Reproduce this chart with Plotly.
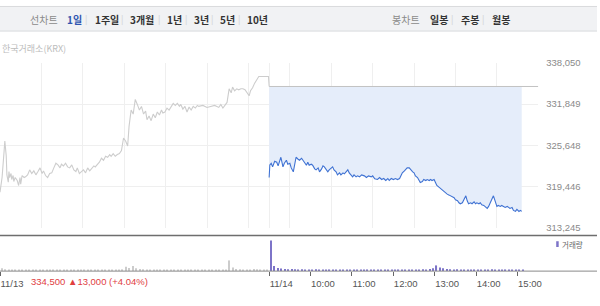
import plotly.graph_objects as go

# ---------------- data ----------------
prev_close = 334500
day_labels = ["11/13", "11/14"]
hour_labels = ["10:00", "11:00", "12:00", "13:00", "14:00", "15:00"]
y_ticks = [313245, 319446, 325648, 331849, 338050]

prev_times = ["09:00","09:03","09:06","09:07","09:09","09:10","09:12","09:13","09:14","09:16","09:17","09:19","09:20","09:22","09:25","09:27","09:29","09:30","09:32","09:35","09:37","09:40","09:43","09:46","09:49","09:52","09:55","09:58",
              "10:01","10:03","10:06","10:09","10:12","10:15","10:18","10:21","10:24","10:27","10:29","10:32","10:35","10:38","10:41","10:44","10:47","10:50","10:52","10:55","10:58",
              "11:01","11:04","11:07","11:10","11:13","11:16","11:18","11:21","11:24","11:27","11:30","11:33","11:36","11:39","11:41","11:44","11:47","11:50","11:53","11:56","11:59",
              "12:02","12:05","12:07","12:10","12:13","12:16","12:19","12:22","12:25","12:28","12:31","12:33","12:36","12:39","12:42","12:45","12:48","12:51","12:54","12:56","12:59",
              "13:02","13:05","13:08","13:11","13:14","13:17","13:20","13:22","13:25","13:28","13:31","13:34","13:37","13:40","13:43","13:46","13:48","13:54",
              "14:00","14:06","14:11","14:17","14:20","14:23","14:26","14:29","14:32","14:35","14:37","14:40","14:43","14:46","14:49","14:52","14:55","14:58",
              "15:01","15:03","15:06","15:09","15:12","15:15","15:29","15:30"]
prev_prices = [318600,320800,324850,326300,324100,321200,320100,321700,320800,321400,320500,321100,320200,320800,320350,319600,320800,319800,321100,320800,320900,321200,321950,321400,321800,321200,321700,322250,
               321400,321800,321100,320800,321400,321500,322250,322950,322700,322250,322800,322550,322950,322400,322250,322700,321950,321700,322250,321400,321700,
               321950,321500,322250,321800,322250,322550,322400,322800,323100,323700,323400,324000,323850,324250,324000,324400,324000,324250,324400,324850,326750,
               326300,325550,328500,330950,330350,332550,331800,330950,331500,330350,330800,329500,330050,329350,330350,329800,330650,330200,330950,330500,330650,
               331250,330950,331500,331950,331650,331950,331500,331800,331100,331500,330650,331400,330950,331500,331250,331650,331500,331650,
               331350,331500,331650,331350,331800,331250,331650,332100,334150,333550,334400,333850,334150,334000,334150,334150,334000,333550,
               333100,333850,334300,335000,335450,336000,336000,334500]

today_times = ["09:00","09:01","09:03","09:05","09:08","09:11","09:13","09:17","09:20","09:22","09:25","09:27","09:30","09:32","09:35","09:37","09:39","09:42","09:44","09:47","09:49","09:51","09:54","09:56","09:58",
               "10:01","10:03","10:06","10:08","10:11","10:13","10:16","10:18","10:20","10:23","10:25","10:27","10:30","10:32","10:34","10:37","10:39","10:42","10:44","10:47","10:49","10:51","10:54","10:56","10:59",
               "11:01","11:03","11:06","11:08","11:11","11:14","11:18","11:21","11:24","11:28","11:30","11:33","11:37","11:40","11:43","11:46","11:49","11:52","11:54","11:57",
               "12:00","12:03","12:06","12:09","12:11","12:13","12:16","12:18","12:20","12:23","12:25","12:28","12:30","12:32","12:35","12:37","12:39","12:42","12:44","12:47","12:49","12:52","12:54","12:56","12:59",
               "13:01","13:03","13:06","13:09","13:11","13:13","13:16","13:18","13:21","13:23","13:25","13:28","13:30","13:33","13:35","13:37","13:40","13:42","13:45","13:47","13:49","13:52","13:54","13:57","13:59",
               "14:01","14:04","14:06","14:08","14:11","14:13","14:16","14:18","14:20","14:23","14:25","14:28","14:30","14:32","14:35","14:37","14:40","14:42","14:45","14:47","14:49","14:52","14:54","14:57","14:59",
               "15:02","15:04","15:06"]
today_prices = [320800,322700,322950,322400,323250,323100,322550,323850,322400,322950,323400,322800,322950,322250,321650,322950,323850,323550,323400,323700,323400,322950,322650,323100,322650,
                322800,322650,322100,321950,322250,321650,322100,322550,322400,321950,321650,321950,322250,322400,321950,321650,321200,321500,321200,321500,321350,321650,321950,321500,321050,
                320900,321200,320900,321050,320900,321200,321050,320800,321050,320900,321050,320600,320500,320800,320500,320650,320350,320650,320350,320650,
                320500,320650,320500,320650,321050,321500,321800,322100,322250,322250,321950,321650,321500,321050,320800,320500,320050,320200,320500,320350,320500,320350,320500,320350,320500,
                320050,319600,319350,319050,318900,318750,318450,318300,318150,318000,317900,317750,317450,317300,317000,316850,317000,317450,318050,317300,316850,317000,316850,317150,316850,
                317000,316850,317000,316700,316600,316450,316150,316450,317000,317600,318050,317150,316450,316600,316450,316600,316450,316300,316450,316300,316150,316300,315850,315700,316000,
                315700,315850,315700]

# volume, 5-minute bins from 09:00
vol_prev = [8,5,4,3,4,3,3,2,3,3,2,3,
            3,2,3,2,2,3,2,2,3,2,2,3,
            2,3,2,2,3,2,3,2,3,3,4,5,
            12,9,14,8,6,5,4,4,3,4,3,3,
            3,4,3,3,2,3,3,2,3,3,2,3,
            3,2,3,2,3,4,30,10,6,5,4,3,
            4,6,5,4,3,4]
vol_today = [86,14,9,7,6,5,6,5,4,5,4,4,
             4,5,3,4,4,3,4,3,4,4,3,4,
             3,4,3,3,4,3,3,4,3,3,4,3,
             3,3,4,3,3,4,4,3,5,4,6,8,
             16,10,8,6,5,4,5,4,4,3,4,4,
             3,4,3,4,5,4,3,4,3,3,4,3,
             3,3]

toolbar_left = ["선차트", "1일", "1주일", "3개월", "1년", "3년", "5년", "10년"]
toolbar_right = ["봉차트", "일봉", "주봉", "월봉"]
change_text = "334,500 ▲13,000 (+4.04%)"

# ---------------- helpers ----------------
DAY = 390  # minutes in a session


def to_min(s):
    h, m = s.split(":")
    return (int(h) - 9) * 60 + int(m)


px_prev = [to_min(t) for t in prev_times]
px_today = [to_min(t) + DAY for t in today_times]
vx_prev = [5 * i + 2.5 for i in range(len(vol_prev))]
vx_today = [DAY + 5 * i + 2.5 for i in range(len(vol_today))]

W, H = 600, 306
X_END = 541 / W


def py(y):
    return 1 - y / H


NUM_FONT = "Liberation Sans, Arial, Noto Sans CJK KR"
KR_FONT = "Noto Sans CJK KR, Noto Sans, sans-serif"

fig = go.Figure()

# fill base (previous close) + today line
fig.add_trace(go.Scatter(x=px_today, y=[prev_close] * len(px_today), mode="lines",
                         line=dict(width=0, color="rgba(0,0,0,0)"), hoverinfo="skip",
                         showlegend=False, xaxis="x", yaxis="y"))
fig.add_trace(go.Scatter(x=px_today, y=today_prices, mode="lines", fill="tonexty",
                         fillcolor="#e5edfa", line=dict(color="#3f72d3", width=1.1),
                         showlegend=False, xaxis="x", yaxis="y"))
# previous close reference line
fig.add_trace(go.Scatter(x=[DAY, 2 * DAY], y=[prev_close, prev_close], mode="lines",
                         line=dict(color="#c2c2c2", width=1), showlegend=False,
                         xaxis="x", yaxis="y"))
# previous day line
fig.add_trace(go.Scatter(x=px_prev + [DAY], y=prev_prices + [prev_close], mode="lines",
                         line=dict(color="#cdcdcd", width=1.1), showlegend=False,
                         xaxis="x", yaxis="y"))

# volume
fig.add_trace(go.Bar(x=vx_prev, y=vol_prev, width=1.6, marker=dict(color="#cccccc", line_width=0),
                     showlegend=False, xaxis="x2", yaxis="y2"))
fig.add_trace(go.Bar(x=vx_today, y=vol_today, width=1.6, marker=dict(color="#7d74c8", line_width=0),
                     showlegend=False, xaxis="x2", yaxis="y2"))

grid_vals = list(range(0, 2 * DAY + 1, 60)) + [DAY]
tick_vals = [0, DAY] + [DAY + 60 * (i + 1) for i in range(len(hour_labels))]
tick_text = day_labels + hour_labels

fig.update_layout(
    width=W, height=H, margin=dict(l=0, r=0, t=0, b=0),
    paper_bgcolor="white", plot_bgcolor="white", barmode="overlay",
    xaxis=dict(domain=[0, X_END], range=[0, 2 * DAY], anchor="y",
               tickvals=grid_vals, showticklabels=False, ticks="",
               showgrid=True, gridcolor="#efefef", gridwidth=1, zeroline=False, showline=False),
    yaxis=dict(domain=[py(230), py(59)], range=[y_ticks[0], y_ticks[-1]], side="right", anchor="x",
               tickvals=y_ticks, tickformat=",d", ticks="", ticklabelstandoff=7,
               tickfont=dict(family=NUM_FONT, size=9.5, color="#8a8a8a"),
               showgrid=True, gridcolor="#efefef", zeroline=False, showline=False),
    xaxis2=dict(domain=[0, X_END], range=[0, 2 * DAY], anchor="y2", matches="x",
                tickvals=tick_vals, ticktext=tick_text, ticklabelposition="outside right",
                ticks="outside", ticklen=4, tickcolor="#666", tickwidth=1, ticklabelstandoff=3,
                tickfont=dict(family=NUM_FONT, size=9.5, color="#555"),
                showgrid=False, zeroline=False, showline=False),
    yaxis2=dict(domain=[py(275), py(238)], range=[0, 100], anchor="x2",
                showticklabels=False, showgrid=False, zeroline=False, showline=False, ticks=""),
)

shapes = [
    # toolbar
    dict(type="rect", xref="paper", yref="paper", x0=0, x1=1, y0=py(26), y1=1,
         fillcolor="#f1f2f4", line=dict(width=0), layer="below"),
    dict(type="line", xref="paper", yref="paper", x0=0, x1=1, y0=py(26), y1=py(26),
         line=dict(color="#d9dadd", width=1)),
    dict(type="line", xref="paper", yref="paper", x0=0, x1=1, y0=py(0.5), y1=py(0.5),
         line=dict(color="#d9dadd", width=1)),
    # panel separator + volume baseline
    dict(type="line", xref="paper", yref="paper", x0=0, x1=1, y0=py(238), y1=py(238),
         line=dict(color="#6e6e6e", width=1.5)),
    dict(type="line", xref="paper", yref="paper", x0=0, x1=1, y0=py(275), y1=py(275),
         line=dict(color="#8a8a8a", width=1)),
    # volume legend marker
    dict(type="rect", xref="paper", yref="paper", x0=559 / W, x1=561.5 / W, y0=py(250), y1=py(244),
         fillcolor="#7d74c8", line=dict(width=0)),
]

anns = []
left_x = [28, 65, 93, 129, 166, 193, 219, 246]
for i, (lab, x) in enumerate(zip(toolbar_left, left_x)):
    if i == 0:
        col, txt = "#8a8a8a", lab
    elif i == 1:
        col, txt = "#2f55b0", "<b>" + lab + "</b>"
    else:
        col, txt = "#333333", "<b>" + lab + "</b>"
    anns.append(dict(x=x / W, y=py(14), xref="paper", yref="paper", text=txt, showarrow=False,
                     xanchor="left", yanchor="middle", font=dict(family=KR_FONT, size=10, color=col)))
for x in [86, 123, 160, 187, 213, 240, 454, 485]:
    anns.append(dict(x=x / W, y=py(14), xref="paper", yref="paper", text="|", showarrow=False,
                     xanchor="center", yanchor="middle", font=dict(family=KR_FONT, size=9, color="#d0d0d0")))
right_x = [392, 430, 461, 492]
for i, (lab, x) in enumerate(zip(toolbar_right, right_x)):
    col, txt = ("#8a8a8a", lab) if i == 0 else ("#333333", "<b>" + lab + "</b>")
    anns.append(dict(x=x / W, y=py(14), xref="paper", yref="paper", text=txt, showarrow=False,
                     xanchor="left", yanchor="middle", font=dict(family=KR_FONT, size=10, color=col)))

anns.append(dict(x=0, y=py(44), xref="paper", yref="paper", text="한국거래소(KRX)", showarrow=False,
                 xanchor="left", yanchor="middle", font=dict(family=KR_FONT, size=9, color="#bcbcbc")))
anns.append(dict(x=29 / W, y=py(286), xref="paper", yref="paper", text=change_text, showarrow=False,
                 xanchor="left", yanchor="middle", font=dict(family=NUM_FONT, size=9.5, color="#e0403f")))
anns.append(dict(x=563 / W, y=py(247), xref="paper", yref="paper", text="거래량", showarrow=False,
                 xanchor="left", yanchor="middle", font=dict(family=KR_FONT, size=7.5, color="#666666")))

fig.update_layout(shapes=shapes, annotations=anns)
fig.write_html("out.html")
